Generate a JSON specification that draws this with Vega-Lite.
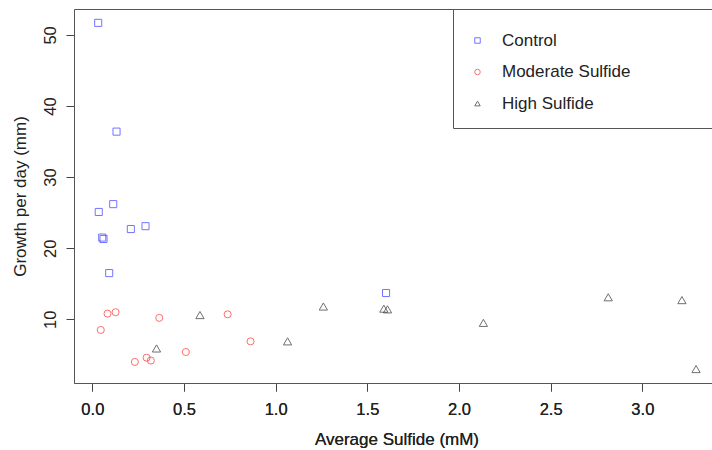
{
  "$schema": "https://vega.github.io/schema/vega-lite/v6.json",
  "width": 638,
  "height": 374,
  "autosize": {"type": "none"},
  "padding": {"left": 74, "top": 9, "right": 0, "bottom": 67},
  "background": "white",
  "config": {
    "view": {"stroke": null},
    "font": "Liberation Sans",
    "axis": {"grid": false}
  },
  "data": {
    "values": [
      {"sulfide": 0.032, "growth": 51.7, "group": "Control"},
      {"sulfide": 0.132, "growth": 36.4, "group": "Control"},
      {"sulfide": 0.114, "growth": 26.2, "group": "Control"},
      {"sulfide": 0.035, "growth": 25.1, "group": "Control"},
      {"sulfide": 0.21, "growth": 22.7, "group": "Control"},
      {"sulfide": 0.29, "growth": 23.1, "group": "Control"},
      {"sulfide": 0.054, "growth": 21.5, "group": "Control"},
      {"sulfide": 0.061, "growth": 21.3, "group": "Control"},
      {"sulfide": 0.092, "growth": 16.5, "group": "Control"},
      {"sulfide": 1.602, "growth": 13.7, "group": "Control"},
      {"sulfide": 0.083, "growth": 10.8, "group": "Moderate Sulfide"},
      {"sulfide": 0.127, "growth": 11.0, "group": "Moderate Sulfide"},
      {"sulfide": 0.046, "growth": 8.5, "group": "Moderate Sulfide"},
      {"sulfide": 0.365, "growth": 10.2, "group": "Moderate Sulfide"},
      {"sulfide": 0.738, "growth": 10.7, "group": "Moderate Sulfide"},
      {"sulfide": 0.863, "growth": 6.9, "group": "Moderate Sulfide"},
      {"sulfide": 0.51, "growth": 5.4, "group": "Moderate Sulfide"},
      {"sulfide": 0.232, "growth": 4.0, "group": "Moderate Sulfide"},
      {"sulfide": 0.296, "growth": 4.6, "group": "Moderate Sulfide"},
      {"sulfide": 0.319, "growth": 4.2, "group": "Moderate Sulfide"},
      {"sulfide": 0.35, "growth": 5.9, "group": "High Sulfide"},
      {"sulfide": 0.587, "growth": 10.6, "group": "High Sulfide"},
      {"sulfide": 1.065, "growth": 6.9, "group": "High Sulfide"},
      {"sulfide": 1.26, "growth": 11.8, "group": "High Sulfide"},
      {"sulfide": 1.59, "growth": 11.5, "group": "High Sulfide"},
      {"sulfide": 1.61, "growth": 11.4, "group": "High Sulfide"},
      {"sulfide": 2.133, "growth": 9.5, "group": "High Sulfide"},
      {"sulfide": 2.814, "growth": 13.1, "group": "High Sulfide"},
      {"sulfide": 3.216, "growth": 12.7, "group": "High Sulfide"},
      {"sulfide": 3.293, "growth": 3.0, "group": "High Sulfide"}
    ]
  },
  "encoding": {
    "x": {
      "field": "sulfide",
      "type": "quantitative",
      "scale": {"domain": [-0.1, 3.38], "zero": false, "nice": false},
      "axis": {
        "orient": "bottom",
        "values": [0, 0.5, 1, 1.5, 2, 2.5, 3],
        "format": ".1f",
        "tickSize": 8,
        "tickColor": "#444",
        "domainColor": "#555",
        "labelFontSize": 16.5,
        "labelColor": "#222",
        "labelPadding": 10,
        "labelFlush": false,
        "title": "Average Sulfide (mM)",
        "titleFontSize": 17,
        "titleFontWeight": "normal",
        "titleColor": "#222",
        "titlePadding": 14,
        "titleX": 322.5
      }
    },
    "y": {
      "field": "growth",
      "type": "quantitative",
      "scale": {"domain": [1.04, 53.65], "zero": false, "nice": false},
      "axis": {
        "values": [10, 20, 30, 40, 50],
        "tickSize": 8,
        "tickColor": "#444",
        "domainColor": "#555",
        "labelFontSize": 16.5,
        "labelColor": "#222",
        "labelAngle": -90,
        "labelAlign": "center",
        "labelBaseline": "bottom",
        "labelPadding": 8,
        "labelFlush": false,
        "title": "Growth per day (mm)",
        "titleFontSize": 17,
        "titleFontWeight": "normal",
        "titleColor": "#222",
        "titlePadding": 13
      }
    },
    "color": {
      "field": "group",
      "type": "nominal",
      "scale": {
        "domain": ["Control", "Moderate Sulfide", "High Sulfide"],
        "range": ["#3a3aff", "#ff3030", "#333333"]
      },
      "legend": {
        "orient": "none",
        "legendX": 379,
        "legendY": 0,
        "title": " ",
        "titleFontSize": 1,
        "titlePadding": 6,
        "strokeColor": "#555",
        "fillColor": "white",
        "padding": 16,
        "labelFontSize": 17,
        "labelColor": "#222",
        "labelOffset": 16,
        "labelLimit": 600,
        "symbolSize": 30,
        "symbolStrokeWidth": 1,
        "rowPadding": 13.5,
        "labelExpr": "datum.label + '\u2003\u2003\u2003\u2003\u00a0\u200b'"
      }
    },
    "shape": {
      "field": "group",
      "type": "nominal",
      "scale": {
        "domain": ["Control", "Moderate Sulfide", "High Sulfide"],
        "range": ["square", "circle", "triangle-up"]
      }
    }
  },
  "layer": [
    {
      "transform": [{"filter": "datum.group != 'High Sulfide'"}],
      "mark": {"type": "point", "filled": false, "size": 50, "strokeWidth": 1}
    },
    {
      "transform": [{"filter": "datum.group == 'High Sulfide'"}],
      "mark": {"type": "point", "filled": false, "size": 68, "strokeWidth": 1}
    },
    {
      "mark": {"type": "point", "opacity": 0},
      "encoding": {
        "x": {
          "field": "sulfide",
          "type": "quantitative",
          "scale": {"domain": [-0.1, 3.38], "zero": false, "nice": false},
          "axis": {
            "orient": "top",
            "labels": false,
            "ticks": false,
            "title": null,
            "domainColor": "#555"
          }
        },
        "y": null,
        "color": null,
        "shape": null
      }
    }
  ],
  "resolve": {"axis": {"x": "independent"}}
}
